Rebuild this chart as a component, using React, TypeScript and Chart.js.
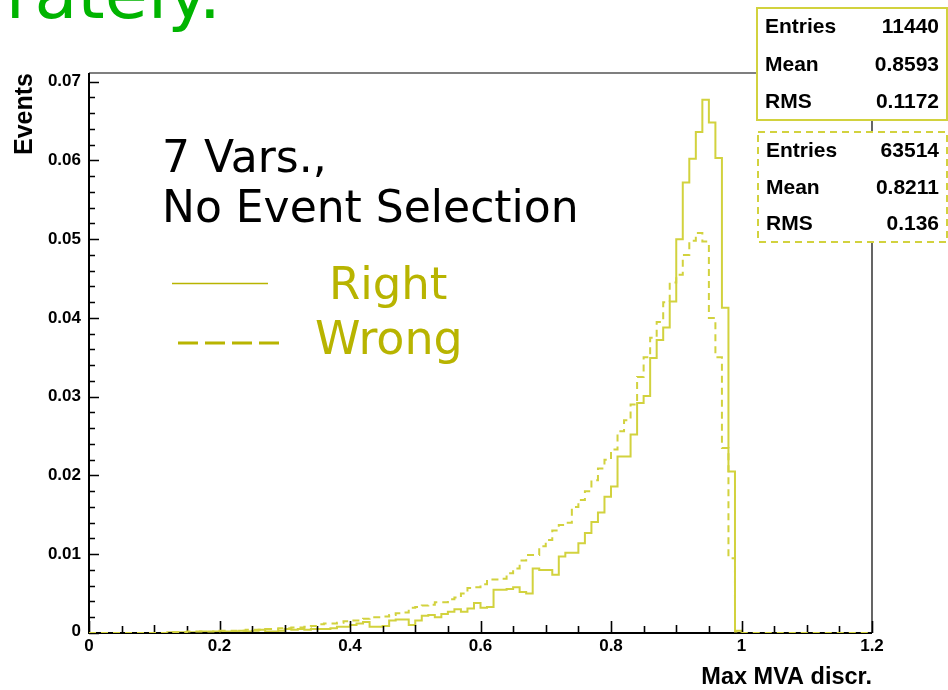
import React, { useEffect, useRef } from "react";
import { Chart, registerables } from "chart.js";

Chart.register(...registerables);

// ---------------- data ----------------
const BIN_WIDTH = 0.01;
const X_MIN = 0;
const X_MAX = 1.2;
const Y_MAX = 0.0711;

// "Right" combinations (solid), bins of width 0.01 from 0 to 1.0
const rightValues = [
  0, 0, 0, 0, 0, 0, 0, 0, 0, 0,
  0, 0, 0.0001, 0.0001, 0.0001, 0.0001, 0.0001, 0.0002, 0.0001, 0.0002,
  0.0002, 0.0002, 0.0002, 0.0003, 0.0002, 0.0003, 0.0004, 0.0002, 0.0002, 0.0003,
  0.0005, 0.0004, 0.0005, 0.0004, 0.0005, 0.0005, 0.0005, 0.0006, 0.0008, 0.0008,
  0.001, 0.0012, 0.0014, 0.0008, 0.0008, 0.0009, 0.0016, 0.0017, 0.0017, 0.001,
  0.0016, 0.0022, 0.0023, 0.002, 0.0024, 0.0027, 0.003, 0.0027, 0.0031, 0.0038,
  0.0032, 0.0033, 0.0055, 0.0055, 0.0056, 0.0058, 0.0052, 0.005, 0.0082, 0.008,
  0.008, 0.0074, 0.0097, 0.0102, 0.0102, 0.0114, 0.0127, 0.0141, 0.0153, 0.0173,
  0.0186, 0.0224, 0.0224, 0.0252, 0.0292, 0.0301, 0.0349, 0.0372, 0.0388, 0.0421,
  0.05, 0.0572, 0.0602, 0.0636, 0.0677, 0.0648, 0.0603, 0.0413, 0.0205, 0.0003,
];

// "Wrong" combinations (dashed)
const wrongValues = [
  0, 0, 0, 0, 0, 0, 0, 0, 0, 0,
  0, 0, 0.0001, 0.0001, 0.0001, 0.0002, 0.0002, 0.0002, 0.0002, 0.0002,
  0.0003, 0.0003, 0.0003, 0.0003, 0.0004, 0.0004, 0.0004, 0.0005, 0.0005, 0.0006,
  0.0006, 0.0007, 0.0007, 0.0008, 0.0009, 0.0011, 0.0012, 0.0012, 0.0013, 0.0015,
  0.0016, 0.0016, 0.0018, 0.002, 0.002, 0.0021, 0.0023, 0.0025, 0.0026, 0.0032,
  0.0033, 0.0035, 0.0036, 0.0039, 0.0039, 0.0043, 0.0045, 0.005, 0.0057, 0.0058,
  0.0062, 0.0068, 0.0068, 0.0069, 0.0076, 0.0082, 0.0092, 0.0099, 0.0099, 0.011,
  0.0118, 0.013, 0.0137, 0.014, 0.016, 0.0169, 0.018, 0.0194, 0.0209, 0.022,
  0.0233, 0.0256, 0.027, 0.029, 0.0325, 0.035, 0.0375, 0.0395, 0.042, 0.0445,
  0.0455, 0.048, 0.0498, 0.0508, 0.0497, 0.04, 0.035, 0.0235, 0.0095, 0.0002,
];

const xTickValues = [0, 0.2, 0.4, 0.6, 0.8, 1, 1.2];
const xTickLabels = ["0", "0.2", "0.4", "0.6", "0.8", "1", "1.2"];
const yTickValues = [0, 0.01, 0.02, 0.03, 0.04, 0.05, 0.06, 0.07];
const yTickLabels = ["0", "0.01", "0.02", "0.03", "0.04", "0.05", "0.06", "0.07"];

const statLabels = ["Entries", "Mean", "RMS"];
const statsRight = ["11440", "0.8593", "0.1172"];
const statsWrong = ["63514", "0.8211", "0.136"];

const titleText = "rately.";
const noteLines = ["7 Vars.,", "No Event Selection"];
const legendLabels = ["Right", "Wrong"];
const xTitle = "Max MVA discr.";
const yTitle = "Events";

// ---------------- styles ----------------
const HIST_COLOR = "#d2d23e";
const LEGEND_COLOR = "#b8b400";
const TITLE_COLOR = "#00b400";
const AXIS_FONT = '"Liberation Sans", Arial, sans-serif';
const NOTE_FONT = '"DejaVu Sans", Verdana, sans-serif';

function toSteps(values: number[]) {
  const pts = values.map((v, i) => ({ x: +(i * BIN_WIDTH).toFixed(4), y: v }));
  pts.push({ x: +(values.length * BIN_WIDTH).toFixed(4), y: 0 });
  pts.push({ x: X_MAX, y: 0 });
  return pts;
}

function text(
  ctx: CanvasRenderingContext2D,
  s: string,
  x: number,
  y: number,
  font: string,
  color: string,
  align: CanvasTextAlign = "left",
  baseline: CanvasTextBaseline = "alphabetic"
) {
  ctx.font = font;
  ctx.fillStyle = color;
  ctx.textAlign = align;
  ctx.textBaseline = baseline;
  ctx.fillText(s, x, y);
}

function drawAxes(chart: any) {
  const { ctx, chartArea: a, scales } = chart;
  const xs = scales.x;
  const ys = scales.y;
  ctx.save();
  ctx.strokeStyle = "#000";
  // frame top/right
  ctx.lineWidth = 1.2;
  ctx.beginPath();
  ctx.moveTo(a.left, a.top);
  ctx.lineTo(a.right, a.top);
  ctx.lineTo(a.right, a.bottom);
  ctx.stroke();
  // axes
  ctx.lineWidth = 2;
  ctx.beginPath();
  ctx.moveTo(a.left, a.top);
  ctx.lineTo(a.left, a.bottom);
  ctx.lineTo(a.right, a.bottom);
  ctx.stroke();

  // y ticks (inward)
  ctx.lineWidth = 1.6;
  ctx.beginPath();
  for (let k = 0; k <= 35; k++) {
    const v = k * 0.002;
    if (v > Y_MAX) break;
    const py = Math.round(ys.getPixelForValue(v)) + 0.5;
    const len = k % 5 === 0 ? 10 : 6;
    ctx.moveTo(a.left, py);
    ctx.lineTo(a.left + len, py);
  }
  // x ticks (inward)
  for (let k = 0; k <= 24; k++) {
    const v = k * 0.05;
    const px = Math.round(xs.getPixelForValue(v)) + 0.5;
    const len = k % 4 === 0 ? 12 : k % 2 === 0 ? 8 : 7;
    ctx.moveTo(px, a.bottom);
    ctx.lineTo(px, a.bottom - len);
  }
  ctx.stroke();

  // tick labels
  const tf = `bold 17px ${AXIS_FONT}`;
  yTickValues.forEach((v, i) => {
    const py = ys.getPixelForValue(v);
    text(ctx, yTickLabels[i], a.left - 8, py + (i === 0 ? -2 : 0), tf, "#000", "right", "middle");
  });
  xTickValues.forEach((v, i) => {
    const px = xs.getPixelForValue(v);
    text(ctx, xTickLabels[i], px, a.bottom + 13, tf, "#000", "center", "middle");
  });

  // axis titles
  text(ctx, xTitle, a.right, a.bottom + 45, `bold 23.5px ${AXIS_FONT}`, "#000", "right", "middle");
  ctx.save();
  ctx.translate(25, a.top);
  ctx.rotate(-Math.PI / 2);
  text(ctx, yTitle, 0, 0, `bold 25px ${AXIS_FONT}`, "#000", "right", "middle");
  ctx.restore();
  ctx.restore();
}

function drawStatBox(
  ctx: CanvasRenderingContext2D,
  left: number,
  top: number,
  right: number,
  bottom: number,
  values: string[],
  dashed: boolean
) {
  ctx.save();
  ctx.fillStyle = "#fff";
  ctx.fillRect(left, top, right - left, bottom - top);
  ctx.strokeStyle = HIST_COLOR;
  ctx.lineWidth = 2;
  if (dashed) ctx.setLineDash([7, 5]);
  ctx.strokeRect(left, top, right - left, bottom - top);
  ctx.setLineDash([]);
  const rowH = (bottom - top) / 3;
  const f = `bold 21px ${AXIS_FONT}`;
  statLabels.forEach((lab, i) => {
    const cy = top + rowH * (i + 0.5) + 1;
    text(ctx, lab, left + 8, cy, f, "#000", "left", "middle");
    text(ctx, values[i], right - 8, cy, f, "#000", "right", "middle");
  });
  ctx.restore();
}

function drawOverlay(chart: any) {
  const { ctx } = chart;
  ctx.save();
  // slide title fragment
  text(ctx, titleText, 221, 18, `70px ${NOTE_FONT}`, TITLE_COLOR, "right", "alphabetic");

  // annotation
  text(ctx, noteLines[0], 162, 172, `44px ${NOTE_FONT}`, "#000");
  text(ctx, noteLines[1], 162, 222, `44px ${NOTE_FONT}`, "#000");

  // legend
  ctx.strokeStyle = LEGEND_COLOR;
  ctx.lineWidth = 1.5;
  ctx.beginPath();
  ctx.moveTo(172, 283.5);
  ctx.lineTo(268, 283.5);
  ctx.stroke();
  ctx.lineWidth = 3;
  ctx.setLineDash([20, 7]);
  ctx.beginPath();
  ctx.moveTo(178, 343);
  ctx.lineTo(280, 343);
  ctx.stroke();
  ctx.setLineDash([]);
  text(ctx, legendLabels[0], 329, 299, `45px ${NOTE_FONT}`, LEGEND_COLOR);
  text(ctx, legendLabels[1], 315, 354, `46px ${NOTE_FONT}`, LEGEND_COLOR);

  // stat boxes
  drawStatBox(ctx, 757, 8, 947, 120, statsRight, false);
  drawStatBox(ctx, 758, 132, 947, 242, statsWrong, true);
  ctx.restore();
}

const rootStylePlugin = {
  id: "rootStyle",
  beforeDraw(chart: any) {
    const { ctx, width, height } = chart;
    ctx.save();
    ctx.fillStyle = "#fff";
    ctx.fillRect(0, 0, width, height);
    ctx.restore();
  },
  beforeDatasetDraw(chart: any, args: any) {
    // axes drawn after the solid histogram, before the dashed one
    if (args.index === 0) drawAxes(chart);
  },
  afterDraw(chart: any) {
    drawOverlay(chart);
  },
};

export default function App() {
  const ref = useRef<HTMLCanvasElement>(null);
  useEffect(() => {
    if (!ref.current) return;
    const chart = new Chart(ref.current, {
      type: "line",
      data: {
        datasets: [
          {
            label: "Wrong",
            data: toSteps(wrongValues),
            borderColor: HIST_COLOR,
            borderWidth: 2,
            borderDash: [7, 5],
            pointRadius: 0,
            stepped: "before",
            fill: false,
            tension: 0,
          },
          {
            label: "Right",
            data: toSteps(rightValues),
            borderColor: HIST_COLOR,
            borderWidth: 2,
            pointRadius: 0,
            stepped: "before",
            fill: false,
            tension: 0,
          },
        ],
      },
      options: {
        animation: false,
        responsive: false,
        maintainAspectRatio: false,
        devicePixelRatio: 1,
        layout: { padding: { left: 89, right: 76, top: 73, bottom: 57 } },
        scales: {
          x: { type: "linear", min: X_MIN, max: X_MAX, display: false },
          y: { type: "linear", min: 0, max: Y_MAX, display: false },
        },
        plugins: {
          legend: { display: false },
          tooltip: { enabled: false },
        },
        events: [],
      },
      plugins: [rootStylePlugin],
    } as any);
    return () => chart.destroy();
  }, []);
  return (
    <div style={{ position: "fixed", left: 0, top: 0, width: 948, height: 690, background: "#fff" }}>
      <canvas ref={ref} width={948} height={690} style={{ display: "block", width: 948, height: 690 }} />
    </div>
  );
}
